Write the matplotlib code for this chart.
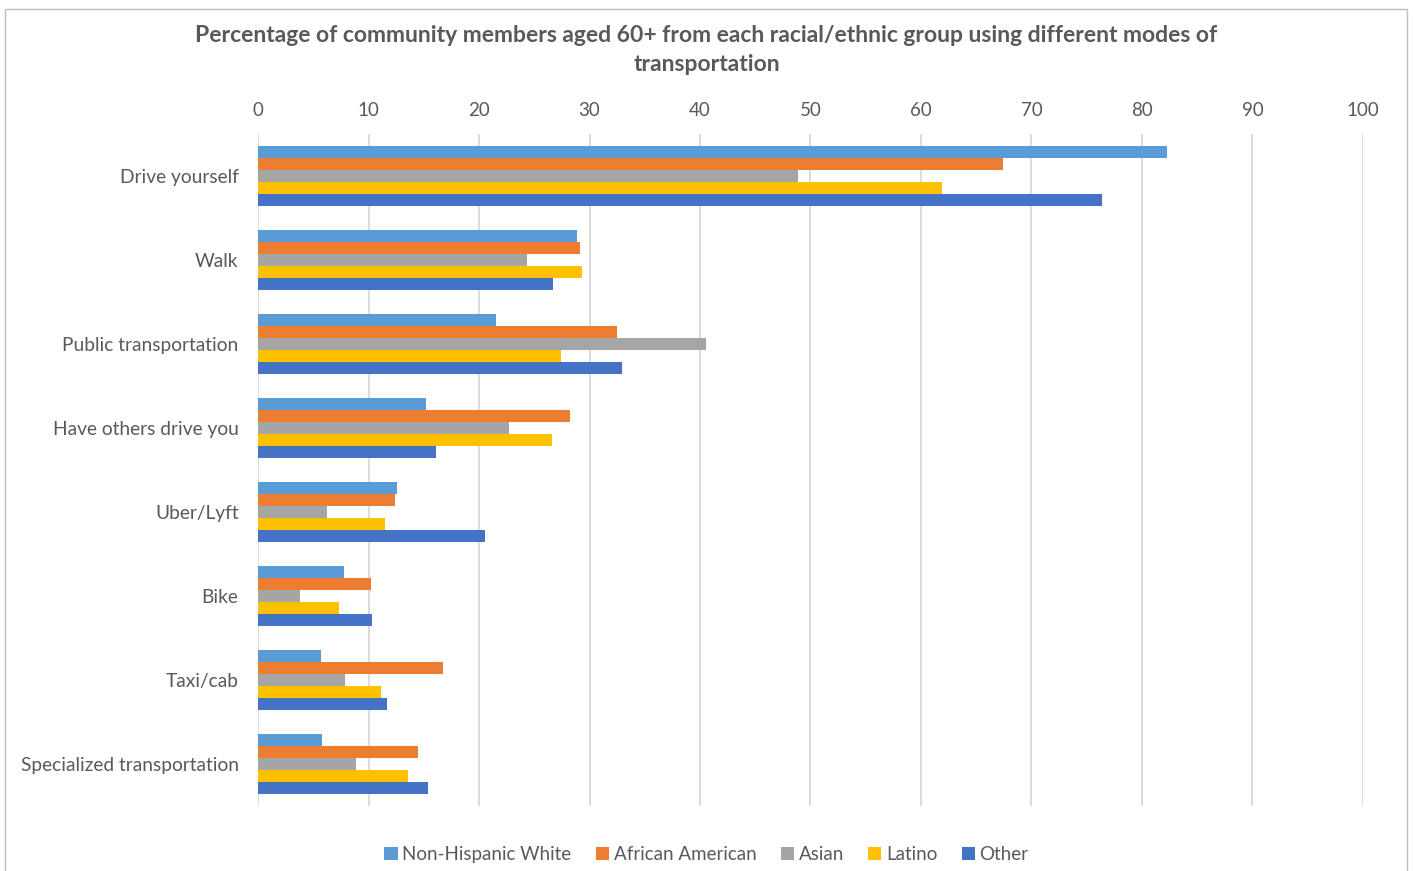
import numpy as np
import matplotlib.pyplot as plt
from matplotlib.patches import Rectangle

categories = ["Drive yourself", "Walk", "Public transportation", "Have others drive you",
              "Uber/Lyft", "Bike", "Taxi/cab", "Specialized transportation"]
groups = ["Non-Hispanic White", "African American", "Asian", "Latino", "Other"]
colors = ["#5B9BD5", "#ED7D31", "#A5A5A5", "#FFC000", "#4472C4"]

non_hispanic_white = [82.3, 28.9, 21.5, 15.2, 12.6, 7.8, 5.7, 5.8]
african_american = [67.4, 29.1, 32.5, 28.2, 12.4, 10.2, 16.7, 14.5]
asian = [48.9, 24.3, 40.5, 22.7, 6.2, 3.8, 7.9, 8.9]
latino = [61.9, 29.3, 27.4, 26.6, 11.5, 7.3, 11.1, 13.6]
other = [76.4, 26.7, 32.9, 16.1, 20.5, 10.3, 11.7, 15.4]
series = [non_hispanic_white, african_american, asian, latino, other]

plt.rcParams['font.family'] = ['Lato', 'DejaVu Sans']

fig = plt.figure(figsize=(14.13, 8.71), dpi=100)
ax = fig.add_axes([0.1826, 0.0746, 0.7820, 0.7715])

y = np.arange(len(categories))
h = 0.145
for i, (vals, name, c) in enumerate(zip(series, groups, colors)):
    ax.barh(y + (i - 2) * h, vals, height=h, color=c, label=name, zorder=3)

ax.set_xlim(0, 100)
ax.set_ylim(len(categories) - 0.5, -0.5)
ax.set_xticks(range(0, 101, 10))
ax.set_yticks(y)
ax.set_yticklabels(categories)
ax.xaxis.tick_top()
ax.tick_params(axis='x', length=0, labelsize=13.5, colors='#595959', pad=11)
ax.tick_params(axis='y', length=0, labelsize=13.8, colors='#595959', pad=14)
ax.grid(axis='x', color='#d9d9d9', linewidth=1.3, zorder=0)
for s in ax.spines.values():
    s.set_visible(False)

fig.text(0.5, 0.971, "Percentage of community members aged 60+ from each racial/ethnic group using different modes of\ntransportation",
         ha='center', va='top', fontsize=16.5, fontweight='bold', color='#595959', linespacing=1.45)

handles, labels = ax.get_legend_handles_labels()
fig.legend(handles, labels, loc='center', bbox_to_anchor=(0.5, 0.019), ncol=5, frameon=False,
           fontsize=13.5, labelcolor='#595959', handlelength=0.7, handleheight=0.7,
           handletextpad=0.25, columnspacing=1.3)

fig.add_artist(Rectangle((0.0035, -0.01), 0.992, 1.0, transform=fig.transFigure,
                         fill=False, edgecolor='#bfbfbf', linewidth=1))

fig.savefig("out.png", dpi=100)
